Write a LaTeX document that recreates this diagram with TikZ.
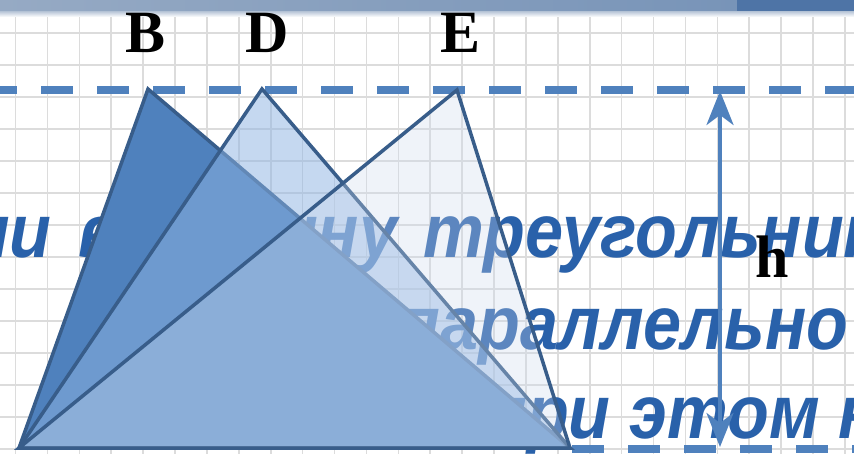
\documentclass[tikz,border=0pt]{standalone}
\usepackage{fontspec}
\setmainfont{Liberation Serif}
\newfontfamily\rusfont[FakeStretch=0.9]{Liberation Sans}
\usetikzlibrary{arrows.meta}
\definecolor{txtblue}{RGB}{41,97,170}
\definecolor{accent}{RGB}{79,129,189}
\definecolor{edgec}{RGB}{56,93,138}
\definecolor{dfill}{RGB}{141,179,226}
\definecolor{efill}{RGB}{206,219,238}
\definecolor{gridc}{RGB}{220,220,220}
\definecolor{bnA}{RGB}{150,170,196}
\definecolor{bnB}{RGB}{120,148,184}
\definecolor{bnC}{RGB}{78,116,166}
\tikzset{
  slidetext/.style={font=\rusfont\bfseries\itshape\fontsize{76}{76}\selectfont, text=txtblue, inner sep=0pt, anchor=base west},
  ptlabel/.style={font=\bfseries\fontsize{60}{60}\selectfont, text=black, inner sep=0pt, anchor=base},
  guide/.style={draw=accent, line width=8pt, dash pattern=on 32pt off 24pt},
  tri/.style={draw=edgec, line width=3.5pt},
  harrow/.style={draw=accent, line width=4pt, {Stealth[length=34pt,width=27pt,inset=10pt]}-{Stealth[length=34pt,width=27pt,inset=10pt]}}
}
\begin{document}
\begin{tikzpicture}[x=1pt,y=-1pt]
\useasboundingbox (0,0) rectangle (854,454);
\clip (0,0) rectangle (854,454);
\fill[white] (0,0) rectangle (854,454);
% graph paper
\foreach \i in {0,...,26} \draw[gridc, line width=1.6pt] (15.5+31.9*\i,0) -- ++(0,454);
\foreach \j in {0,...,14} \draw[gridc, line width=1.6pt] (0,1+32*\j) -- ++(854,0);
% banner
\shade[left color=bnA, right color=bnB] (0,0) rectangle (737,13);
\fill[bnC] (737,0) rectangle (854,13);
\shade[top color=bnA!60, bottom color=white] (0,12) rectangle (854,17);
% background text (justified lines of the slide)
\node[slidetext] (line1) at (423,258) {\llap{Если\hspace{8pt} вер\kern17pt шину\hspace{7pt} }треугольника};
\node[slidetext] (line2) at (440,349) {\llap{прямой,\hspace{40pt} п}араллельно};
\node[slidetext] (line3) at (527,438) {\llap{а п}ри этом не изменится};
% points
\coordinate (A) at (19,448);
\coordinate (B) at (148,89);
\coordinate (D) at (262,89);
\coordinate (E) at (457,90);
\coordinate (C) at (570,448);
\coordinate (topL) at (0,90);
\coordinate (topR) at (854,90);
\coordinate (botL) at (572,449);
\coordinate (botR) at (854,449);
% parallel lines
\draw[guide, dash phase=15pt] (topL) -- (topR);
\draw[guide] (botL) -- (botR);
% triangles
\filldraw[tri, fill=accent] (A) -- (B) -- (C) -- cycle;
\filldraw[tri, fill=dfill, fill opacity=0.5] (A) -- (D) -- (C) -- cycle;
\filldraw[tri, fill=efill, fill opacity=0.31] (A) -- (E) -- (C) -- cycle;
% height
\coordinate (hT) at (720,91);
\coordinate (hB) at (720,447);
\draw[harrow] (hT) -- (hB);
% labels
\node[ptlabel] (lB) at (146,53) {B};
\node[ptlabel] (lD) at (267,53) {D};
\node[ptlabel] (lE) at (461,53) {E};
\node[ptlabel] (lh) at (772,278) {h};
\end{tikzpicture}
\end{document}
